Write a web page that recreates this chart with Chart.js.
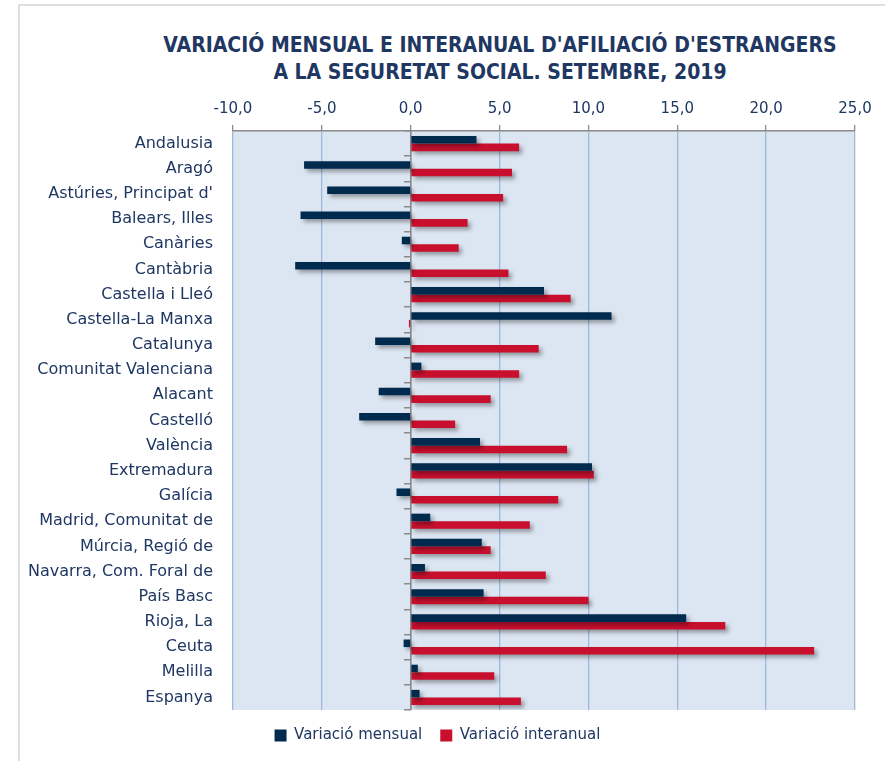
<!DOCTYPE html>
<html>
<head>
<meta charset="utf-8">
<script src="https://cdn.jsdelivr.net/npm/chart.js@4/dist/chart.umd.min.js"></script>
<style>
  body { margin: 0; background: #fff; }
  #wrap { position: relative; width: 885px; height: 761px; overflow: hidden; }
  #frame { position: absolute; left: 18px; top: 4px; width: 900px; height: 800px;
           border-left: 2px solid #e0e0e0; border-top: 2px solid #e0e0e0; }
  #title { position: absolute; left: 100px; width: 800px; top: 32px; text-align: center;
           font: bold 21px 'Liberation Sans Narrow', 'DejaVu Sans Condensed', sans-serif;
           color: #1f3763; line-height: 27px; }
  canvas { position: absolute; left: 0; top: 0; }
</style>
</head>
<body>
<div id="wrap">
  <div id="frame"></div>
  <div id="title">VARIACIÓ MENSUAL E INTERANUAL D'AFILIACIÓ D'ESTRANGERS<br>A LA SEGURETAT SOCIAL. SETEMBRE, 2019</div>
  <canvas id="chart" width="885" height="761"></canvas>
</div>
<script>
const categories = ['Andalusia', 'Aragó', "Astúries, Principat d'", 'Balears, Illes', 'Canàries',
  'Cantàbria', 'Castella i Lleó', 'Castella-La Manxa', 'Catalunya', 'Comunitat Valenciana',
  'Alacant', 'Castelló', 'València', 'Extremadura', 'Galícia', 'Madrid, Comunitat de',
  'Múrcia, Regió de', 'Navarra, Com. Foral de', 'País Basc', 'Rioja, La', 'Ceuta', 'Melilla', 'Espanya'];

const mensual = [3.7, -6.0, -4.7, -6.2, -0.5, -6.5, 7.5, 11.3, -2.0, 0.6, -1.8, -2.9, 3.9,
  10.2, -0.8, 1.1, 4.0, 0.8, 4.1, 15.5, -0.4, 0.4, 0.5];
const interanual = [6.1, 5.7, 5.2, 3.2, 2.7, 5.5, 9.0, -0.1, 7.2, 6.1, 4.5, 2.5, 8.8,
  10.3, 8.3, 6.7, 4.5, 7.6, 10.0, 17.7, 22.7, 4.7, 6.2];

const xTicks = [-10, -5, 0, 5, 10, 15, 20, 25];

const navy = '#1f3763';
const grey = '#8a8a8a';

// light blue plot background
const plotBg = {
  id: 'plotBg',
  beforeDraw(chart) {
    const { ctx, chartArea: a } = chart;
    ctx.save();
    ctx.fillStyle = '#dce6f2';
    ctx.fillRect(a.left, a.top, a.right - a.left, a.bottom - a.top);
    ctx.restore();
  }
};

// soft shadow under the bars
const barShadow = {
  id: 'barShadow',
  beforeDatasetsDraw(chart) {
    const ctx = chart.ctx;
    ctx.save();
    ctx.shadowColor = 'rgba(0,0,0,0.35)';
    ctx.shadowBlur = 4;
    ctx.shadowOffsetX = 3;
    ctx.shadowOffsetY = 3;
  },
  afterDatasetsDraw(chart) {
    chart.ctx.restore();
  }
};

new Chart(document.getElementById('chart'), {
  type: 'bar',
  data: {
    labels: categories,
    datasets: [
      { label: 'Variació mensual', data: mensual, backgroundColor: '#002a4e' },
      { label: 'Variació interanual', data: interanual, backgroundColor: '#c8102e' }
    ]
  },
  options: {
    indexAxis: 'y',
    responsive: false,
    animation: false,
    categoryPercentage: 0.6,
    barPercentage: 1.0,
    layout: { padding: { left: 20, right: 30, top: 93, bottom: 8 } },
    plugins: {
      title: { display: false },
      tooltip: { enabled: false },
      legend: {
        position: 'bottom',
        labels: {
          boxWidth: 12,
          boxHeight: 12,
          padding: 18,
          color: navy,
          font: { family: 'DejaVu Sans', size: 15 }
        }
      }
    },
    scales: {
      x: {
        position: 'top',
        min: -10,
        max: 25,
        afterBuildTicks(scale) { scale.ticks = xTicks.map(v => ({ value: v })); },
        ticks: {
          color: navy,
          padding: 7,
          font: { family: 'DejaVu Sans', size: 15 },
          callback: v => v.toFixed(1).replace('.', ',')
        },
        grid: {
          color: ctx => ctx.tick && ctx.tick.value === 0 ? grey : '#9db8da',
          lineWidth: 1.3,
          tickColor: grey,
          tickLength: 6
        },
        border: { display: true, color: grey, width: 1.5 }
      },
      y: {
        afterFit(scale) { scale.width = 213; },
        ticks: {
          color: navy,
          padding: 20,
          font: { family: 'DejaVu Sans', size: 16 }
        },
        grid: { display: false, drawTicks: false },
        border: { display: false }
      },
      yZero: {
        type: 'category',
        axis: 'y',
        position: { x: 0 },
        offset: true,
        ticks: { display: false },
        grid: { offset: true, drawOnChartArea: false, color: grey, tickLength: 6, lineWidth: 1.5 },
        border: { display: true, color: grey, width: 1.5 }
      }
    }
  },
  plugins: [plotBg, barShadow]
});
</script>
</body>
</html>
